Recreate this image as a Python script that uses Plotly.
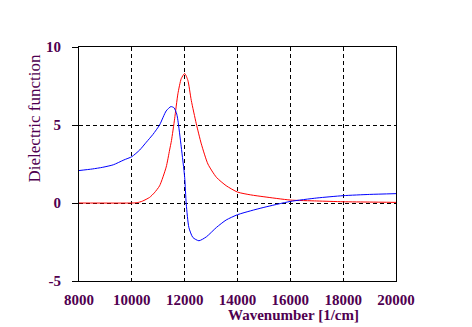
import plotly.graph_objects as go

# Data
wavenumber_real = [8000, 8500, 8900, 9300, 9700, 10000, 10300, 10550, 10800, 11050,
                   11300, 11480, 11600, 11700, 11744, 11870, 12000, 12060, 12160,
                   12310, 12540, 12820, 13200, 13570, 14000, 14500, 15000, 16000,
                   17000, 18000, 19000, 20000]
eps_real = [2.08, 2.18, 2.29, 2.45, 2.76, 2.97, 3.4, 3.9, 4.4, 5.0,
            5.9, 6.18, 6.1, 5.7, 5.3, 3.6, 1.65, -0.07, -1.57,
            -2.21, -2.42, -2.17, -1.57, -1.09, -0.75, -0.5, -0.28, 0.1,
            0.32, 0.47, 0.55, 0.6]

wavenumber_imag = [8000, 10000, 10200, 10400, 10673, 10850, 11050, 11300, 11430,
                   11500, 11620, 11744, 11870, 12000, 12120, 12250, 12440, 12630,
                   12880, 13200, 13570, 14000, 14500, 15000, 16000, 17000, 18000,
                   19000, 20000]
eps_imag = [0, 0, 0.02, 0.12, 0.36, 0.65, 1.1, 2.3, 3.4,
            4.0, 5.4, 7.0, 7.97, 8.3, 7.87, 6.58, 5.08, 3.79,
            2.5, 1.65, 1.11, 0.7, 0.52, 0.4, 0.19, 0.13, 0.08,
            0.06, 0.04]

x_ticks = [8000, 10000, 12000, 14000, 16000, 18000, 20000]
x_tick_labels = ["8000", "10000", "12000", "14000", "16000", "18000", "20000"]
y_ticks = [-5, 0, 5, 10]
y_tick_labels = ["-5", "0", "5", "10"]

text_color = "#500050"
serif = "Liberation Serif, Times New Roman, serif"

fig = go.Figure()
fig.add_trace(go.Scatter(x=wavenumber_imag, y=eps_imag, mode="lines",
                         line=dict(color="#ff0000", width=1, shape="spline", smoothing=0.6),
                         showlegend=False))
fig.add_trace(go.Scatter(x=wavenumber_real, y=eps_real, mode="lines",
                         line=dict(color="#0000ff", width=1, shape="spline", smoothing=0.6),
                         showlegend=False))

axis_common = dict(
    showline=True, linecolor="black", linewidth=1, mirror=True,
    showgrid=True, gridcolor="black", gridwidth=1, griddash="4px,3px",
    zeroline=False,
    tickfont=dict(family=serif, size=15, color=text_color, weight="bold"),
)

fig.update_xaxes(range=[8000, 20000], tickvals=x_ticks, ticktext=x_tick_labels,
                 ticks="", ticklabelstandoff=5, **axis_common)
fig.update_yaxes(range=[-5, 10], tickvals=y_ticks, ticktext=y_tick_labels,
                 ticks="outside", ticklen=6, tickcolor="black",
                 ticklabelstandoff=8, **axis_common)

fig.add_annotation(text="Wavenumber [1/cm]", xref="paper", yref="paper",
                   x=0.677, y=-0.147, xanchor="center", yanchor="middle",
                   showarrow=False,
                   font=dict(family=serif, size=15, color=text_color, weight="bold"))
fig.add_annotation(text="Dielectric function", xref="paper", yref="paper",
                   x=-0.14, y=0.693, xanchor="center", yanchor="middle",
                   textangle=-90, showarrow=False,
                   font=dict(family=serif, size=17, color=text_color))

fig.update_layout(width=472, height=327,
                  margin=dict(l=79, r=76, t=47, b=46),
                  paper_bgcolor="white", plot_bgcolor="white")

fig.write_html("out.html")
